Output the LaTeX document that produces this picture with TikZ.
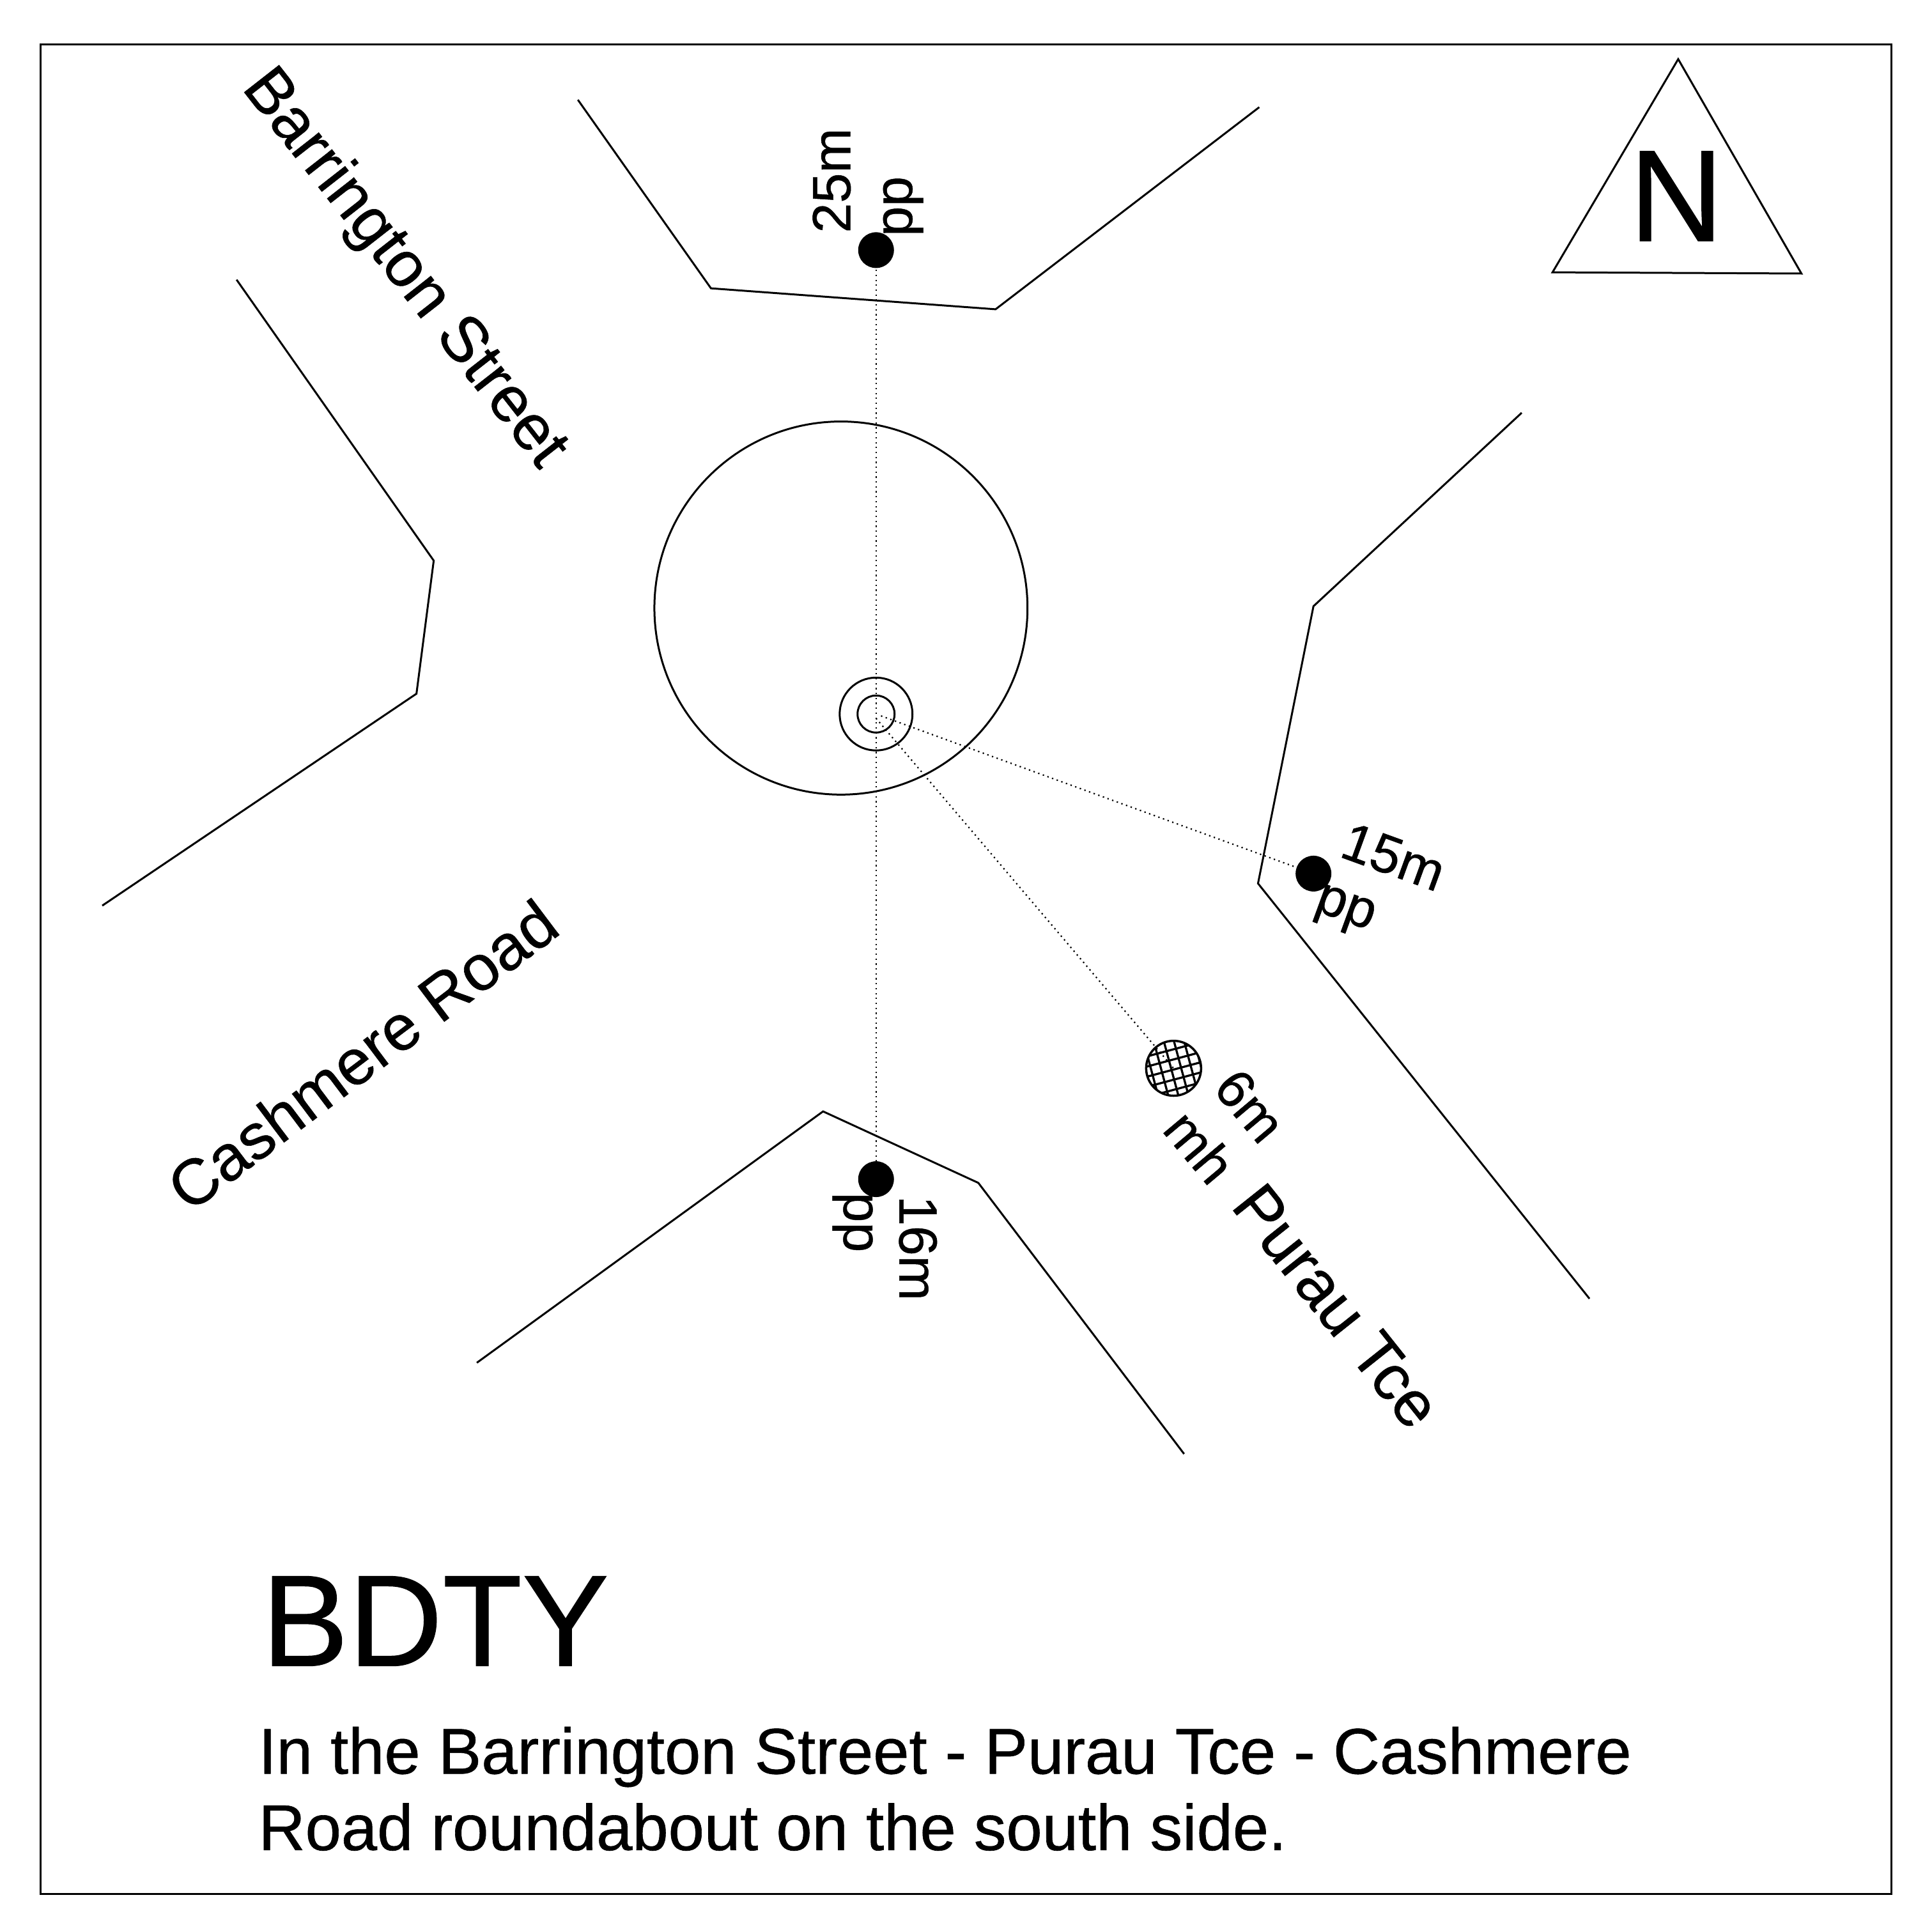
\documentclass[tikz,border=0pt]{standalone}
\usepackage{fontspec}
\setmainfont[FakeBold=0.6]{Liberation Sans}
\tikzset{
  road/.style={line width=0.03cm,line join=miter},
  sight/.style={line width=0.022cm,dash pattern=on 0.022cm off 0.055cm},
  ring/.style={circle,draw,line width=0.03cm,inner sep=0pt,outer sep=0pt},
  peg/.style={circle,fill=black,inner sep=0pt,outer sep=0pt,minimum size=0.56cm},
  street/.style={font=\fontsize{28.6}{36}\selectfont,inner sep=0pt},
  caption/.style={font=\fontsize{28.8}{36}\selectfont,inner sep=0pt},
  small/.style={font=\fontsize{24}{29}\selectfont,inner sep=0pt},
  big/.style={font=\fontsize{58}{68}\selectfont,inner sep=0pt},
}
\begin{document}
\begin{tikzpicture}[x=0.01928cm,y=-0.01928cm]
\useasboundingbox (0,0) rectangle (1568,1568);
\fill[white] (0,0) rectangle (1568,1568);
\node[draw,line width=0.03cm,inner sep=0pt,outer sep=0pt,minimum width=28.97cm,minimum height=28.95cm] (frame) at (784,786.5) {};
% roads
\coordinate (t1) at (469,81); \coordinate (t2) at (577,234); \coordinate (t3) at (808,251); \coordinate (t4) at (1022,87);
\coordinate (l1) at (192,227); \coordinate (l2) at (352,455); \coordinate (l3) at (338,563); \coordinate (l4) at (83,735);
\coordinate (r1) at (1235,335); \coordinate (r2) at (1066,492); \coordinate (r3) at (1021,717); \coordinate (r4) at (1290,1054);
\coordinate (b1) at (387,1106); \coordinate (b2) at (668,902); \coordinate (b3) at (794,960); \coordinate (b4) at (961,1180);
\draw[road] (t1)--(t2)--(t3)--(t4);
\draw[road] (l1)--(l2)--(l3)--(l4);
\draw[road] (r1)--(r2)--(r3)--(r4);
\draw[road] (b1)--(b2)--(b3)--(b4);
% roundabout
\node[ring,minimum size=5.84cm] (island) at (682.5,493.5) {};
\node[ring,minimum size=1.14cm] (outerhub) at (711,579.5) {};
\node[ring,minimum size=0.58cm] (innerhub) at (711,579.5) {};
% marks
\node[peg] (ppn) at (711,203) {};
\node[peg] (ppe) at (1066,709) {};
\node[peg] (pps) at (711,957) {};
\node[circle,inner sep=0pt,minimum size=0.86cm] (mh) at (952.5,867) {};
\coordinate (he) at (715,581);
\coordinate (hs) at (711,583);
\draw[sight] (ppn.center)--(pps.center);
\draw[sight] (he)--(ppe.center);
\draw[sight] (hs)--(mh.center);
\begin{scope}
\clip (mh.center) circle[radius=22.3];
\begin{scope}[shift={(mh.center)},rotate=15]
\foreach \k in {-4,...,4}{
  \draw[line width=0.033cm] (\k*7.95-2,-30)--(\k*7.95-2,30);
  \draw[line width=0.033cm] (-30,\k*7.95+1)--(30,\k*7.95+1);
}
\end{scope}
\end{scope}
\node[circle,draw,line width=0.035cm,inner sep=0pt,minimum size=0.86cm] at (mh.center) {};
% north
\coordinate (n1) at (1362,48); \coordinate (n2) at (1462,222); \coordinate (n3) at (1260,221);
\draw[road] (n1)--(n2)--(n3)--cycle;
\node[big,anchor=base] (north) at (1360.5,195.5) {N};
% street names
\node[street,rotate=-52] (barr) at (327.5,218.5) {Barrington Street};
\node[street,rotate=37] (cash) at (294,856) {Cashmere Road};
\node[street,rotate=-51.5] (pur) at (1085,1060) {Purau Tce};
% distances
\node[small,rotate=90] (d25) at (675,146.5) {25m};
\node[small,rotate=90] (lppn) at (733,167.5) {pp};
\node[small,rotate=-20] (d15) at (1131,695.5) {15m};
\node[small,rotate=-20] (lppe) at (1091,740) {pp};
\node[small,rotate=-90] (d16) at (745,1013) {16m};
\node[small,rotate=-90] (lpps) at (692,992) {pp};
\node[small,rotate=-50] (d6) at (1014.5,897.5) {6m};
\node[small,rotate=-50] (lmh) at (974,930.5) {mh};
% caption
\node[big,anchor=base west] (id) at (212,1352) {BDTY};
\node[caption,anchor=base west] (cap1) at (209.5,1439.5) {In the Barrington Street - Purau Tce - Cashmere};
\node[caption,anchor=base west] (cap2) at (209.5,1501.5) {Road roundabout on the south side.};
\end{tikzpicture}
\end{document}
